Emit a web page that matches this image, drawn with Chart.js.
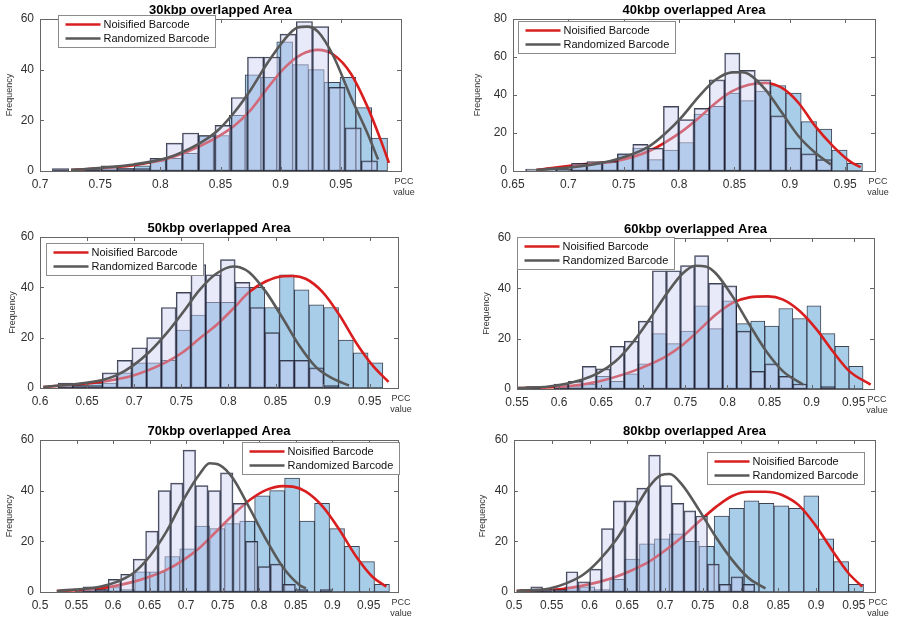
<!DOCTYPE html>
<html>
<head>
<meta charset="utf-8">
<script src="https://cdn.jsdelivr.net/npm/chart.js@4.4.1/dist/chart.umd.min.js"></script>
<style>
  html, body { margin: 0; background: #fff; }
  #wrap { position: relative; width: 902px; height: 620px; overflow: hidden; background: #fff; }
  #wrap canvas { position: absolute; }
</style>
</head>
<body>
<div id="wrap"></div>
<script>
// ---- data: histogram bins are [first edge, bin width], counts per bin ----
const seriesNames = ['Noisified Barcode', 'Randomized Barcode'];

// 30kbp
const x30Ticks = [0.7, 0.75, 0.8, 0.85, 0.9, 0.95];
const y30Ticks = [0, 20, 40, 60];
const n30Bin = [0.7258, 0.01315];
const n30Counts = [1, 1, 1, 1, 2, 4, 5, 7, 14, 14, 22, 38, 37, 51, 42, 40, 35, 37, 25, 13];
const r30Bin = [0.7103, 0.01351];
const r30Counts = [1, 0, 1, 2, 1, 1, 5, 11, 15, 14, 18, 29, 45, 45, 54, 59, 57, 33, 17, 4];
const n30FitX = [0.726, 0.778, 0.806, 0.833, 0.861, 0.875, 0.889, 0.903, 0.917, 0.931, 0.944, 0.958, 0.972, 0.983, 0.99];
const n30FitY = [0.3, 2.3, 4.8, 9.8, 17.7, 24, 32.7, 40.6, 45.9, 47.8, 45.9, 38.7, 25.5, 12.4, 3.2];
const r30FitX = [0.726, 0.778, 0.806, 0.833, 0.847, 0.861, 0.875, 0.889, 0.903, 0.914, 0.922, 0.931, 0.944, 0.958, 0.972, 0.981];
const r30FitY = [0.3, 2.6, 5.2, 11, 15.7, 22.9, 32, 42.6, 51.8, 56.6, 57, 55, 45.2, 29.5, 15, 4.5];

// 40kbp
const x40Ticks = [0.65, 0.7, 0.75, 0.8, 0.85, 0.9, 0.95];
const y40Ticks = [0, 20, 40, 60, 80];
const n40Bin = [0.6614, 0.01383];
const n40Counts = [0, 1, 1, 3, 4, 5, 9, 12, 6, 11, 15, 30, 34, 41, 37, 42, 45, 41, 26, 22, 11, 4];
const r40Bin = [0.6614, 0.01383];
const r40Counts = [1, 0, 1, 4, 5, 5, 9, 14, 12, 34, 27, 33, 48, 62, 53, 48, 29, 12, 9, 6];
const n40FitX = [0.671, 0.713, 0.743, 0.773, 0.803, 0.818, 0.833, 0.848, 0.863, 0.878, 0.893, 0.908, 0.923, 0.939, 0.954, 0.964];
const n40FitY = [0.5, 3.5, 5.2, 10.5, 21, 28, 35.8, 42, 45.4, 46.3, 43.7, 35.8, 23.6, 13.1, 5.2, 2];
const r40FitX = [0.671, 0.713, 0.743, 0.773, 0.788, 0.803, 0.818, 0.833, 0.848, 0.857, 0.863, 0.878, 0.893, 0.908, 0.923, 0.937];
const r40FitY = [0.5, 2.6, 6, 13, 20, 28.8, 39.3, 48, 51.9, 52, 51, 42.8, 30.6, 18.3, 9.6, 3.5];

// 50kbp
const x50Ticks = [0.6, 0.65, 0.7, 0.75, 0.8, 0.85, 0.9, 0.95];
const y50Ticks = [0, 20, 40, 60];
const n50Bin = [0.6035, 0.01567];
const n50Counts = [0, 1, 1, 2, 2, 6, 10, 10, 11, 23, 29, 34, 34, 40, 40, 32, 45, 39, 33, 32, 19, 14, 10];
const r50Bin = [0.6035, 0.01567];
const r50Counts = [0, 2, 1, 1, 6, 11, 16, 20, 32, 38, 49, 45, 51, 42, 32, 22, 11, 11, 8, 1];
const n50FitX = [0.6035, 0.6635, 0.699, 0.734, 0.752, 0.769, 0.787, 0.805, 0.822, 0.84, 0.858, 0.868, 0.882, 0.9, 0.918, 0.935, 0.953, 0.97];
const n50FitY = [0.4, 2.4, 5, 10.3, 14.3, 19.6, 24.9, 31.5, 38.1, 42.4, 44.4, 44.5, 43.4, 38.1, 28.9, 18.3, 9, 2.4];
const r50FitX = [0.6035, 0.664, 0.681, 0.699, 0.716, 0.734, 0.752, 0.769, 0.787, 0.805, 0.812, 0.822, 0.84, 0.858, 0.875, 0.893, 0.911, 0.928];
const r50FitY = [0.4, 3, 5, 9, 14.3, 21.6, 30.2, 38.8, 45.4, 48.3, 48, 46, 38.1, 27.5, 17, 8.3, 3.7, 1];

// 60kbp
const x60Ticks = [0.55, 0.6, 0.65, 0.7, 0.75, 0.8, 0.85, 0.9, 0.95];
const y60Ticks = [0, 20, 40, 60];
const n60Bin = [0.5607, 0.01668];
const n60Counts = [0, 0, 1, 1, 2, 5, 3, 6, 10, 22, 18, 23, 33, 24, 35, 26, 27, 25, 32, 28, 33, 22, 17, 9];
const r60Bin = [0.5607, 0.01668];
const r60Counts = [1, 0, 2, 3, 9, 8, 17, 19, 27, 47, 47, 49, 53, 42, 41, 23, 7, 10, 5, 2, 0, 1];
const n60FitX = [0.55, 0.608, 0.647, 0.687, 0.707, 0.727, 0.747, 0.767, 0.786, 0.806, 0.826, 0.848, 0.866, 0.886, 0.906, 0.925, 0.945, 0.97];
const n60FitY = [0.4, 1, 3, 7, 9.7, 13, 17.6, 23.6, 29.5, 34.2, 36.4, 36.8, 35.5, 30.9, 23.6, 15, 7, 1.7];
const r60FitX = [0.55, 0.588, 0.627, 0.647, 0.667, 0.687, 0.707, 0.727, 0.747, 0.762, 0.774, 0.786, 0.806, 0.826, 0.846, 0.866, 0.89];
const r60FitY = [0.4, 1, 3.7, 6.4, 11, 18.3, 27.5, 37.5, 46, 49, 48.7, 46, 36.8, 25.6, 15, 7, 1.7];

// 70kbp
const x70Ticks = [0.5, 0.55, 0.6, 0.65, 0.7, 0.75, 0.8, 0.85, 0.9, 0.95];
const y70Ticks = [0, 20, 40, 60];
const n70Bin = [0.5273, 0.0205];
const n70Counts = [0, 1, 1, 2, 1, 8, 8, 14, 17, 26, 25, 27, 28, 38, 40, 45, 28, 35, 25, 18, 12, 3];
const r70Bin = [0.5421, 0.01708];
const r70Counts = [0, 2, 1, 5, 7, 13, 24, 40, 43, 56, 42, 40, 47, 35, 20, 10, 11, 3, 1, 0, 1];
const n70FitX = [0.523, 0.582, 0.6275, 0.65, 0.673, 0.696, 0.719, 0.741, 0.764, 0.787, 0.81, 0.832, 0.846, 0.864, 0.887, 0.91, 0.933, 0.955, 0.974];
const n70FitY = [0.4, 1.4, 4, 6, 8.7, 12.6, 17.6, 23.8, 30.4, 36.3, 40.3, 41.8, 41.6, 39.6, 33.7, 24.5, 13.9, 6, 2.1];
const r70FitX = [0.523, 0.582, 0.605, 0.6275, 0.65, 0.673, 0.696, 0.719, 0.732, 0.746, 0.764, 0.787, 0.81, 0.832, 0.855, 0.864];
const r70FitY = [0.4, 2.1, 4, 7.4, 14, 23.8, 36.3, 46.8, 50.8, 50.1, 44.9, 33, 20.5, 10, 2.8, 1.4];

// 80kbp
const x80Ticks = [0.5, 0.55, 0.6, 0.65, 0.7, 0.75, 0.8, 0.85, 0.9, 0.95];
const y80Ticks = [0, 20, 40, 60];
const n80Bin = [0.5079, 0.01978];
const n80Counts = [1, 1, 1, 2, 2, 1, 5, 13, 19, 21, 23, 20, 18, 30, 33, 36, 35, 34, 33, 38, 21, 12, 3];
const r80Bin = [0.5222, 0.0156];
const r80Counts = [2, 1, 1, 8, 4, 9, 25, 36, 36, 41, 54, 42, 35, 32, 30, 11, 3, 6, 3];
const n80FitX = [0.5035, 0.569, 0.613, 0.635, 0.657, 0.679, 0.701, 0.723, 0.745, 0.768, 0.789, 0.811, 0.833, 0.844, 0.855, 0.877, 0.899, 0.921, 0.943, 0.961];
const n80FitY = [0.4, 1.4, 4, 6, 8.7, 12, 16.6, 21.8, 27.8, 33.7, 37.9, 39.6, 39.6, 39.3, 38.3, 34.3, 26.4, 16.6, 7.4, 2.1];
const r80FitX = [0.5035, 0.547, 0.569, 0.591, 0.613, 0.635, 0.657, 0.679, 0.695, 0.706, 0.723, 0.745, 0.767, 0.789, 0.811, 0.833];
const r80FitY = [0.4, 1.4, 3.4, 6.7, 12.6, 20.5, 31, 41.6, 46.2, 46.6, 42.2, 32.4, 21.8, 12.6, 5.4, 1.4];

// ---- panel layout (plot box in page pixels, legend offset from plot corner) ----
const panels = [
  { title: '30kbp overlapped Area', box: [40, 19, 401, 171], xMax: 1.0, yMax: 60, yGap: 40, legend: [18, -4],
    xTicks: x30Ticks, yTicks: y30Ticks, n: [n30Bin, n30Counts, n30FitX, n30FitY], r: [r30Bin, r30Counts, r30FitX, r30FitY] },
  { title: '40kbp overlapped Area', box: [513, 19, 875, 171], xMax: 0.977, yMax: 80, yGap: 45, legend: [5, 2],
    xTicks: x40Ticks, yTicks: y40Ticks, n: [n40Bin, n40Counts, n40FitX, n40FitY], r: [r40Bin, r40Counts, r40FitX, r40FitY] },
  { title: '50kbp overlapped Area', box: [40, 237, 398, 388], xMax: 0.98, yMax: 60, yGap: 37, legend: [6, 6],
    xTicks: x50Ticks, yTicks: y50Ticks, n: [n50Bin, n50Counts, n50FitX, n50FitY], r: [r50Bin, r50Counts, r50FitX, r50FitY] },
  { title: '60kbp overlapped Area', box: [517, 238, 874, 389], xMax: 0.974, yMax: 60, yGap: 40, legend: [0, -1],
    xTicks: x60Ticks, yTicks: y60Ticks, n: [n60Bin, n60Counts, n60FitX, n60FitY], r: [r60Bin, r60Counts, r60FitX, r60FitY] },
  { title: '70kbp overlapped Area', box: [40, 440, 398, 592], xMax: 0.99, yMax: 60, yGap: 40, legend: [202, 2],
    xTicks: x70Ticks, yTicks: y70Ticks, n: [n70Bin, n70Counts, n70FitX, n70FitY], r: [r70Bin, r70Counts, r70FitX, r70FitY] },
  { title: '80kbp overlapped Area', box: [514, 440, 875, 592], xMax: 0.978, yMax: 60, yGap: 41, legend: [193, 12],
    xTicks: x80Ticks, yTicks: y80Ticks, n: [n80Bin, n80Counts, n80FitX, n80FitY], r: [r80Bin, r80Counts, r80FitX, r80FitY] }
];

const FONT = '"Liberation Sans", Arial, Helvetica, sans-serif';
const TOP = 19, RIGHT = 30, BOTTOM = 36;

const toBars = (bin, counts) => counts.map((c, i) => ({ x: bin[0] + (i + 0.5) * bin[1], y: c }));
const toLine = (xs, ys) => xs.map((x, i) => ({ x, y: ys[i] }));

// box, inward tick marks, title, legend and the x label are drawn on top of the plot
const axesDecor = {
  id: 'axesDecor',
  afterDatasetsDraw(chart, args, opts) {
    const { ctx, chartArea: a } = chart;
    const xs = chart.scales.x, ys = chart.scales.y;
    ctx.save();
    ctx.strokeStyle = '#666';
    ctx.lineWidth = 1;
    ctx.beginPath();
    xs.ticks.forEach(t => {
      const px = Math.round(xs.getPixelForValue(t.value)) + 0.5;
      ctx.moveTo(px, a.bottom); ctx.lineTo(px, a.bottom - 4);
      ctx.moveTo(px, a.top); ctx.lineTo(px, a.top + 4);
    });
    ys.ticks.forEach(t => {
      const py = Math.round(ys.getPixelForValue(t.value)) + 0.5;
      ctx.moveTo(a.left, py); ctx.lineTo(a.left + 4, py);
      ctx.moveTo(a.right, py); ctx.lineTo(a.right - 4, py);
    });
    ctx.stroke();
    ctx.strokeRect(a.left + 0.5, a.top + 0.5, a.right - a.left, a.bottom - a.top);

    // title
    ctx.fillStyle = '#000';
    ctx.font = 'bold 13px ' + FONT;
    ctx.textAlign = 'center';
    ctx.textBaseline = 'alphabetic';
    ctx.fillText(opts.title, (a.left + a.right) / 2, a.top - 5);

    // x label at the right end
    ctx.fillStyle = '#333';
    ctx.font = '9px ' + FONT;
    ctx.textBaseline = 'middle';
    ctx.fillText('PCC', a.right + 3, a.bottom + 11);
    ctx.fillText('value', a.right + 3, a.bottom + 22);

    // legend box
    const lines = chart.data.datasets.filter(d => d.type === 'line');
    const bx = Math.round(a.left + opts.legend[0]) + 0.5;
    const by = Math.round(a.top + opts.legend[1]) + 0.5;
    const bw = 157, bh = 32;
    ctx.fillStyle = '#fff';
    ctx.fillRect(bx, by, bw, bh);
    ctx.strokeStyle = '#8c8c8c';
    ctx.strokeRect(bx, by, bw, bh);
    ctx.font = '11px ' + FONT;
    ctx.textAlign = 'left';
    lines.forEach((d, i) => {
      const ly = by + 9 + i * 14;
      ctx.strokeStyle = d.borderColor;
      ctx.lineWidth = 2.6;
      ctx.beginPath();
      ctx.moveTo(bx + 7, ly); ctx.lineTo(bx + 42, ly);
      ctx.stroke();
      ctx.fillStyle = '#111';
      ctx.fillText(d.label, bx + 45, ly);
    });
    ctx.restore();
  }
};

const wrap = document.getElementById('wrap');

panels.forEach(p => {
  const [L, T, R, B] = p.box;
  const w = p.yGap + (R - L) + RIGHT;
  const h = TOP + (B - T) + BOTTOM;
  const canvas = document.createElement('canvas');
  canvas.width = w;
  canvas.height = h;
  canvas.style.left = (L - p.yGap) + 'px';
  canvas.style.top = (T - TOP) + 'px';
  canvas.style.width = w + 'px';
  canvas.style.height = h + 'px';
  wrap.appendChild(canvas);

  const xMin = p.xTicks[0];
  const setTicks = s => { s.ticks = p.xTicks.map(v => ({ value: v })); };
  const barStyle = { type: 'bar', barPercentage: 1, categoryPercentage: 1, grouped: false,
                     borderWidth: 1, borderSkipped: false, borderColor: 'rgba(28, 34, 52, 0.85)' };
  const lineStyle = { type: 'line', pointRadius: 0, borderWidth: 2.6, fill: false,
                      cubicInterpolationMode: 'monotone', xAxisID: 'x' };

  new Chart(canvas, {
    type: 'bar',
    data: {
      datasets: [
        { ...barStyle, label: seriesNames[0] + ' bins', data: toBars(p.n[0], p.n[1]), xAxisID: 'x',
          backgroundColor: '#a8cde8', order: 4 },
        { ...lineStyle, label: seriesNames[0], data: toLine(p.n[2], p.n[3]), borderColor: '#d81e1e', order: 3 },
        { ...barStyle, label: seriesNames[1] + ' bins', data: toBars(p.r[0], p.r[1]), xAxisID: 'x2',
          backgroundColor: 'rgba(201, 204, 241, 0.43)', order: 2 },
        { ...lineStyle, label: seriesNames[1], data: toLine(p.r[2], p.r[3]), borderColor: '#595959', order: 1 }
      ]
    },
    options: {
      responsive: false,
      animation: false,
      events: [],
      layout: { padding: { top: TOP, right: RIGHT, left: 0, bottom: 0 } },
      plugins: {
        legend: { display: false },
        tooltip: { enabled: false },
        axesDecor: { title: p.title, legend: p.legend }
      },
      scales: {
        x: {
          type: 'linear', min: xMin, max: p.xMax, offset: false,
          grid: { display: false, drawTicks: false },
          border: { display: false },
          afterBuildTicks: setTicks,
          afterFit: s => { s.height = BOTTOM; },
          ticks: { autoSkip: false, maxRotation: 0, padding: 6, color: '#303030',
                   font: { family: FONT, size: 12 }, callback: v => String(v) }
        },
        x2: {
          type: 'linear', axis: 'x', position: 'bottom', display: false,
          min: xMin, max: p.xMax, offset: false, afterBuildTicks: setTicks
        },
        y: {
          min: 0, max: p.yMax,
          grid: { display: false, drawTicks: false },
          border: { display: false },
          afterBuildTicks: s => { s.ticks = p.yTicks.map(v => ({ value: v })); },
          afterFit: s => { s.width = p.yGap; },
          ticks: { padding: 6, color: '#303030', font: { family: FONT, size: 12 } },
          title: { display: true, text: 'Frequency', color: '#333', padding: { top: 4.6, bottom: 0 },
                   font: { family: FONT, size: 9 } }
        }
      }
    },
    plugins: [axesDecor]
  });
});
</script>
</body>
</html>
